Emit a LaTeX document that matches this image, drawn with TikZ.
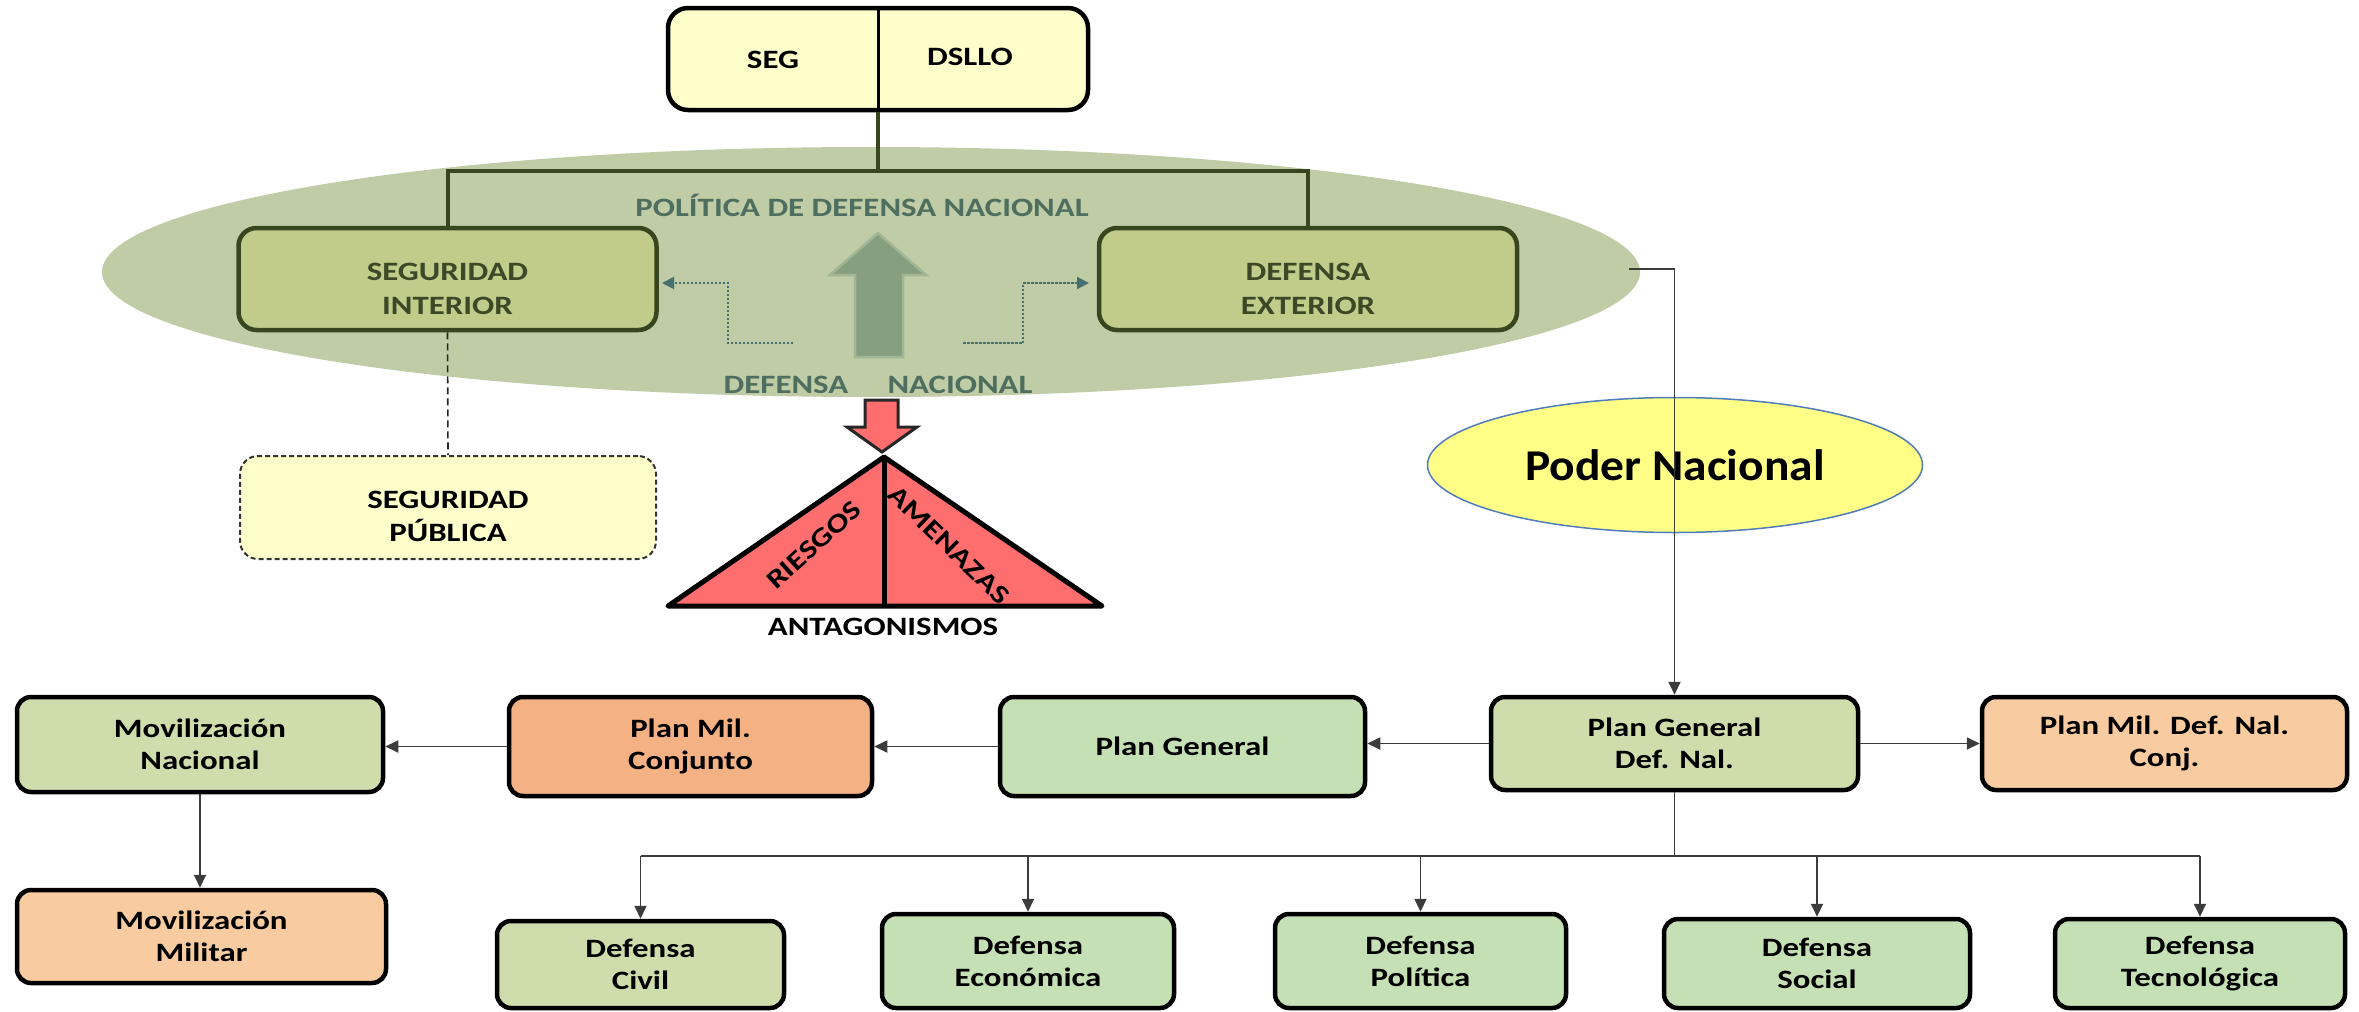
\documentclass[tikz,border=0pt]{standalone}
\usepackage{fontspec}
\setmainfont{Carlito}
\newfontfamily\cf{Carlito}[FakeStretch=1.24]
\newfontfamily\cfp{Carlito}[FakeStretch=1.08]
\usetikzlibrary{shapes.geometric,arrows.meta}
\definecolor{ellfill}{RGB}{191,204,165}
\definecolor{olfill}{RGB}{193,204,139}
\definecolor{oldraw}{RGB}{55,70,30}
\definecolor{oltext}{RGB}{60,72,38}
\definecolor{pdntext}{RGB}{78,110,95}
\definecolor{dotc}{RGB}{70,112,112}
\definecolor{uparrf}{RGB}{134,160,127}
\definecolor{uparrd}{RGB}{160,182,150}
\definecolor{redf}{RGB}{255,110,110}
\definecolor{ylw}{RGB}{255,255,204}
\definecolor{pnf}{RGB}{255,255,136}
\definecolor{pnd}{RGB}{80,125,185}
\definecolor{lgreen}{RGB}{207,221,172}
\definecolor{mgreen}{RGB}{197,224,180}
\definecolor{orng}{RGB}{244,177,131}
\definecolor{peach}{RGB}{249,203,160}
\definecolor{connc}{RGB}{60,60,60}
\begin{document}
\begin{tikzpicture}[x=1pt,y=-1pt,
  txt/.style={inner sep=0pt, align=center, font=\cf\bfseries\fontsize{26.5}{32}\selectfont},
  box/.style={txt, draw=black, line width=4.5pt, rounded corners=14pt, text=black},
  olbox/.style={txt, font=\cf\bfseries\fontsize{26.5}{34}\selectfont, draw=oldraw, fill=olfill, line width=4.5pt, rounded corners=18pt, text=oltext, minimum width=418pt, minimum height=102pt},
  olline/.style={draw=oldraw, line width=4pt},
  conn/.style={draw=connc, line width=1.8pt},
  arr/.style={conn, -{Triangle[length=13pt,width=12pt]}},
  dotarr/.style={draw=dotc, line width=2pt, dash pattern=on 2.5pt off 1.5pt, -{Triangle[length=12pt,width=12pt]}},
  greentext/.style={txt, text=pdntext}
]
\useasboundingbox (0,0) rectangle (2359,1012);

% big green ellipse
\node[ellipse, fill=ellfill, minimum width=1538pt, minimum height=250pt, inner sep=0pt] (pol) at (871,272) {};

% top box
\node[box, fill=ylw, minimum width=420pt, minimum height=102pt, rounded corners=20pt] (top) at (878,59) {};
\node[txt] (seg) at (773,60) {SEG};
\node[txt] (dsllo) at (970,57) {DSLLO};

% olive boxes
\node[olbox] (segint) at (447.5,279) {\rule{0pt}{37pt}SEGURIDAD\\INTERIOR};
\node[olbox] (defext) at (1308,279) {\rule{0pt}{37pt}DEFENSA\\EXTERIOR};

% connector top -> boxes
\coordinate (busc) at (878,171);
\draw[line width=3pt] (top.north) -- (top.south);
\draw[olline] (top.south) -- (busc);
\draw[olline] (segint.north) -- (segint.north |- busc) -- (defext.north |- busc) -- (defext.north);

\node[greentext] (pdn) at (862,205) {POLÍTICA DE DEFENSA NACIONAL};

% up arrow
\draw[fill=uparrf, draw=uparrd, line width=2.5pt, line join=miter]
  (855,357) -- (855,275) -- (830,275) -- (878,233) -- (926,275) -- (903,275) -- (903,357) -- cycle;

% dotted arrows
\coordinate (dl) at (793,343);
\coordinate (dr) at (963,343);
\draw[dotarr] (dl) -- (728,343) -- (728,283) -- (662,283);
\draw[dotarr] (dr) -- (1023,343) -- (1023,283) -- (1089,283);

\node[greentext] (defn) at (786,385) {DEFENSA};
\node[greentext] (nacn) at (960,385) {NACIONAL};

% red arrow
\draw[fill=redf, draw=black!85, line width=3pt, line join=miter]
  (865,400) -- (898,400) -- (898,427) -- (917,427) -- (882,452) -- (847,427) -- (865,427) -- cycle;

% triangle
\draw[fill=redf, draw=black, line width=5pt, line join=round] (668,606) -- (884,457) -- (1102,606) -- cycle;
\draw[line width=5pt] (884,457) -- (884,606);
\node[txt, rotate=42] (ries) at (814,545) {RIESGOS};
\node[txt, rotate=-44] (amen) at (949,545) {AMENAZAS};
\node[txt] (antag) at (883,627) {ANTAGONISMOS};

% seguridad publica
\node[txt, font=\cf\bfseries\fontsize{26.5}{33}\selectfont, draw=black!80, fill=ylw, line width=2pt, dash pattern=on 5pt off 3pt, rounded corners=18pt, minimum width=416pt, minimum height=103pt] (segpub) at (448,507.5) {\rule{0pt}{35pt}SEGURIDAD\\PÚBLICA};
\draw[black!85, line width=1.6pt, dash pattern=on 7pt off 4pt] (segint.south) -- (segpub.north);

% poder nacional
\node[ellipse, fill=pnf, draw=pnd, line width=1.5pt, minimum width=495pt, minimum height=135pt, inner sep=0pt, font=\cfp\bfseries\fontsize{44}{50}\selectfont] (pn) at (1675,465) {Poder Nacional};

% bottom boxes
\node[box, fill=lgreen, minimum width=366pt, minimum height=95pt] (movnac) at (200,744.5) {Movilización\\Nacional};
\node[box, fill=orng, minimum width=363pt, minimum height=99pt] (pmc) at (690.5,746.5) {Plan Mil.\\Conjunto};
\node[box, fill=mgreen, minimum width=365pt, minimum height=99pt] (pg) at (1182.5,746.5) {Plan General};
\node[box, fill=lgreen, minimum width=367pt, minimum height=93pt] (pgdn) at (1674.5,743.5) {Plan General\\Def. Nal.};
\node[box, fill=peach, minimum width=365pt, minimum height=93pt] (pmdnc) at (2164.5,743.5) {Plan Mil. Def. Nal.\\Conj.};
\node[box, fill=peach, minimum width=369pt, minimum height=93pt] (movmil) at (201.5,936.5) {Movilización\\Militar};

\node[box, fill=lgreen, minimum width=287pt, minimum height=87pt] (dc) at (640.5,964.5) {Defensa\\Civil};
\node[box, fill=mgreen, minimum width=292pt, minimum height=94pt] (de) at (1028,961) {Defensa\\Económica};
\node[box, fill=mgreen, minimum width=291pt, minimum height=94pt] (dp) at (1420.5,961) {Defensa\\Política};
\node[box, fill=mgreen, minimum width=306pt, minimum height=89pt] (ds) at (1817,963.5) {Defensa\\Social};
\node[box, fill=mgreen, minimum width=290pt, minimum height=89pt] (dt) at (2200,963.5) {Defensa\\Tecnológica};

% connector from policy ellipse to plan general def nal
\coordinate (pe) at (1629,269);
\draw[arr] (pe) -- (pe -| pgdn.north) -- (pgdn.north);

% horizontal arrows
\draw[arr] (pgdn.west) -- (pgdn.west -| pg.east);
\draw[arr] (pgdn.east) -- (pgdn.east -| pmdnc.west);
\draw[arr] (pg.west) -- (pg.west -| pmc.east);
\draw[arr] (pmc.west) -- (pmc.west -| movnac.east);
\draw[arr] (movnac.south) -- (movnac.south |- movmil.north);

% bus to defensa boxes
\coordinate (bus) at (1676,856);
\draw[conn] (pgdn.south) -- (pgdn.south |- bus);
\draw[conn] (dc.north |- bus) -- (dt.north |- bus);
\draw[arr] (dc.north |- bus) -- (dc.north);
\draw[arr] (de.north |- bus) -- (de.north);
\draw[arr] (dp.north |- bus) -- (dp.north);
\draw[arr] (ds.north |- bus) -- (ds.north);
\draw[arr] (dt.north |- bus) -- (dt.north);
\end{tikzpicture}
\end{document}
